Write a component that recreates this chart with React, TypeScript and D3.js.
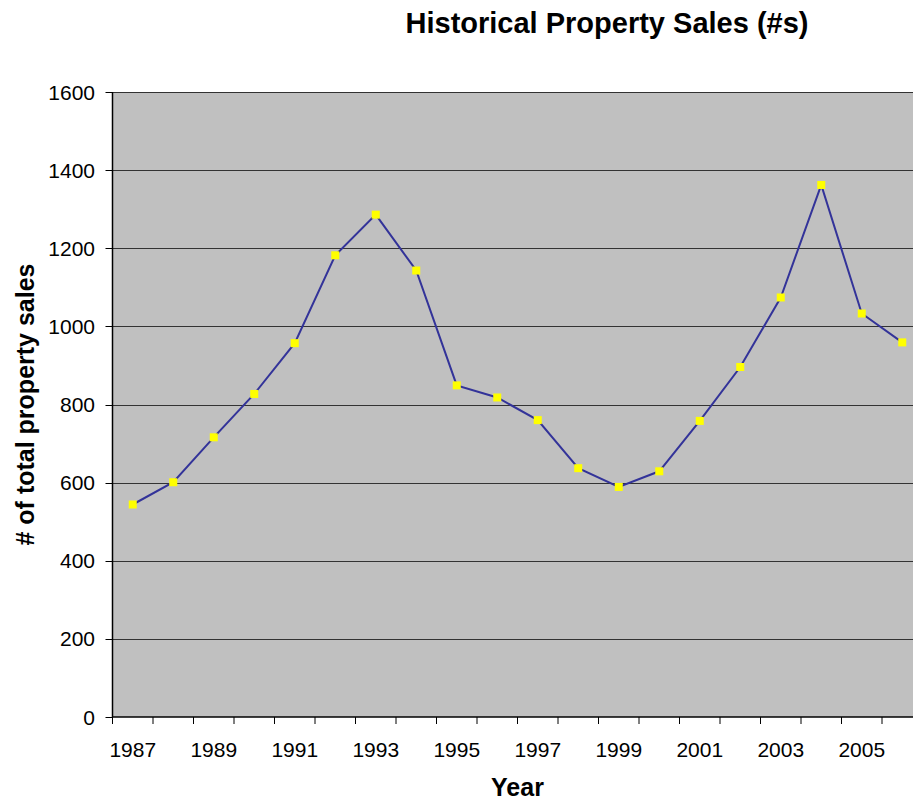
import React, { useEffect, useRef } from 'react';
import * as d3 from 'd3';

const years = [1987, 1988, 1989, 1990, 1991, 1992, 1993, 1994, 1995, 1996,
  1997, 1998, 1999, 2000, 2001, 2002, 2003, 2004, 2005, 2006];
const sales = [544, 601, 716, 827, 957, 1182, 1286, 1143, 849, 818,
  760, 637, 589, 629, 758, 896, 1074, 1362, 1033, 959];
const yTicks = [0, 200, 400, 600, 800, 1000, 1200, 1400, 1600];
const xLabelYears = [1987, 1989, 1991, 1993, 1995, 1997, 1999, 2001, 2003, 2005];

const font = '"Liberation Sans", Arial, sans-serif';

export default function App() {
  const ref = useRef<SVGSVGElement>(null);

  useEffect(() => {
    const svg = d3.select(ref.current);
    svg.selectAll('*').remove();

    const left = 112.5;
    const right = 922.5; // plot runs past the right edge of the picture
    const top = 92;
    const bottom = 717;

    const x = d3.scaleBand<number>()
      .domain(years)
      .range([left, right])
      .padding(0);

    const y = d3.scaleLinear()
      .domain([0, 1600])
      .range([bottom, top]);

    // plot background
    svg.append('rect')
      .attr('x', left)
      .attr('y', top)
      .attr('width', right - left)
      .attr('height', bottom - top)
      .attr('fill', '#c0c0c0');

    // horizontal grid
    svg.append('g')
      .selectAll('line')
      .data(yTicks.filter((d) => d > 0))
      .enter().append('line')
      .attr('x1', left)
      .attr('x2', right)
      .attr('y1', (d) => Math.round(y(d)) + 0.5)
      .attr('y2', (d) => Math.round(y(d)) + 0.5)
      .attr('stroke', '#333')
      .attr('stroke-width', 1);

    // y axis
    const yAxis = svg.append('g');
    yAxis.append('line')
      .attr('x1', left).attr('x2', left)
      .attr('y1', top).attr('y2', bottom)
      .attr('stroke', '#000').attr('stroke-width', 1.5);
    yAxis.selectAll('.tick')
      .data(yTicks)
      .enter().append('line')
      .attr('x1', left - 7)
      .attr('x2', left)
      .attr('y1', (d) => Math.round(y(d)) + 0.5)
      .attr('y2', (d) => Math.round(y(d)) + 0.5)
      .attr('stroke', '#000');
    yAxis.selectAll('text')
      .data(yTicks)
      .enter().append('text')
      .attr('x', 95)
      .attr('y', (d) => y(d) + 7.5)
      .attr('text-anchor', 'end')
      .style('font-family', font)
      .style('font-size', '21px')
      .text((d) => d);

    // x axis
    const xAxis = svg.append('g');
    xAxis.append('line')
      .attr('x1', left).attr('x2', right)
      .attr('y1', bottom).attr('y2', bottom)
      .attr('stroke', '#000').attr('stroke-width', 1.5);
    xAxis.selectAll('.tick')
      .data(years)
      .enter().append('line')
      .attr('x1', (d) => x(d) as number)
      .attr('x2', (d) => x(d) as number)
      .attr('y1', bottom)
      .attr('y2', bottom + 7)
      .attr('stroke', '#000');
    xAxis.selectAll('text')
      .data(xLabelYears)
      .enter().append('text')
      .attr('x', (d) => (x(d) as number) + x.bandwidth() / 2)
      .attr('y', 756.5)
      .attr('text-anchor', 'middle')
      .style('font-family', font)
      .style('font-size', '21px')
      .text((d) => d);

    // series line
    const line = d3.line<number>()
      .curve(d3.curveLinear)
      .x((d, i) => (x(years[i]) as number) + x.bandwidth() / 2)
      .y((d) => y(d));

    svg.append('path')
      .datum(sales)
      .attr('fill', 'none')
      .attr('stroke', '#333399')
      .attr('stroke-width', 2)
      .attr('d', line);

    // markers
    svg.append('g')
      .selectAll('rect')
      .data(sales)
      .enter().append('rect')
      .attr('x', (d, i) => (x(years[i]) as number) + x.bandwidth() / 2 - 4)
      .attr('y', (d) => y(d) - 4)
      .attr('width', 8)
      .attr('height', 8)
      .attr('fill', '#ffff00');

    // titles
    svg.append('text')
      .attr('x', 607)
      .attr('y', 33)
      .attr('text-anchor', 'middle')
      .style('font-family', font)
      .style('font-size', '29px')
      .style('font-weight', 'bold')
      .text('Historical Property Sales (#s)');

    svg.append('text')
      .attr('transform', `translate(33.5,${(top + bottom) / 2}) rotate(-90)`)
      .attr('text-anchor', 'middle')
      .style('font-family', font)
      .style('font-size', '25px')
      .style('font-weight', 'bold')
      .text('# of total property sales');

    svg.append('text')
      .attr('x', (left + right) / 2)
      .attr('y', 796)
      .attr('text-anchor', 'middle')
      .style('font-family', font)
      .style('font-size', '25px')
      .style('font-weight', 'bold')
      .text('Year');
  }, []);

  return (
    <div style={{ position: 'absolute', left: 0, top: 0 }}>
      <svg ref={ref} width={913} height={803} style={{ display: 'block', background: '#fff' }} />
    </div>
  );
}
